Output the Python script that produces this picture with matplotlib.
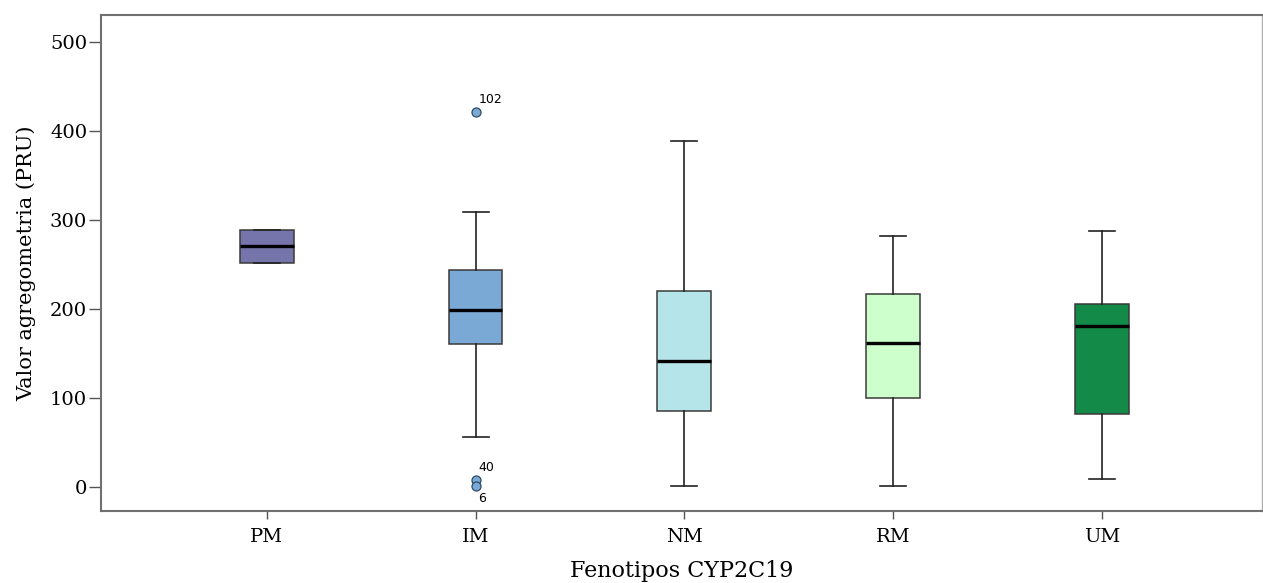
import matplotlib.pyplot as plt

# datos (SPSS boxplot)
categorias = ['PM', 'IM', 'NM', 'RM', 'UM']
q1 = [251, 160, 84.5, 100, 81.5]
mediana = [271, 198.6, 141.5, 162, 181]
q3 = [288, 244, 220.4, 216.6, 205]
bigote_inf = [251, 56, 1, 1, 9]
bigote_sup = [288, 309, 388.5, 282, 287]
atipicos = [[], [420.7, 7, 1], [], [], []]
etiquetas_atipicos = [[], ['102', '40', '6'], [], [], []]
colores = ['#7574AB', '#7BA9D5', '#B5E5E8', '#CCFFCC', '#138A47']

plt.rcParams['font.family'] = ['DejaVu Serif']

fig = plt.figure(figsize=(12.63, 5.83), dpi=100)
ax = fig.add_axes([0.080, 0.1235, 0.919, 0.851])

stats = []
for i, cat in enumerate(categorias):
    stats.append({'label': cat, 'q1': q1[i], 'med': mediana[i], 'q3': q3[i],
                  'whislo': bigote_inf[i], 'whishi': bigote_sup[i],
                  'fliers': atipicos[i]})

pos = list(range(len(categorias)))
bp = ax.bxp(stats, positions=pos, widths=0.258, capwidths=0.125,
            patch_artist=True, showfliers=True,
            boxprops=dict(edgecolor='#3a3a3a', linewidth=1.1),
            medianprops=dict(color='black', linewidth=2.4),
            whiskerprops=dict(color='#222222', linewidth=1.2),
            capprops=dict(color='#222222', linewidth=1.2),
            flierprops=dict(marker='o', markersize=6.5,
                            markerfacecolor=colores[1],
                            markeredgecolor='#2f4a66', markeredgewidth=0.9))
for patch, c in zip(bp['boxes'], colores):
    patch.set_facecolor(c)

# etiquetas de casos atipicos
for i, (vals, labs) in enumerate(zip(atipicos, etiquetas_atipicos)):
    for v, lab in zip(vals, labs):
        dy = -9 if lab == '6' else 9
        ax.annotate(lab, (pos[i], v), xytext=(2, dy), textcoords='offset points',
                    fontsize=9, family='DejaVu Sans', ha='left', va='center')

ax.set_xlim(-0.794, 4.766)
ax.set_ylim(-27.4, 530.4)
ax.set_yticks([0, 100, 200, 300, 400, 500])
ax.set_xticks(pos)
ax.set_xticklabels(categorias)

for s in ax.spines.values():
    s.set_color('#707070')
    s.set_linewidth(1.5)
ax.spines['right'].set_color('#b0b0b0')
ax.spines['right'].set_linewidth(1)

ax.tick_params(axis='both', direction='out', width=1, color='#555555', labelsize=14)
ax.tick_params(axis='y', length=9, pad=1)
ax.tick_params(axis='x', length=6, pad=6)
ax.set_xlabel('Fenotipos CYP2C19', fontsize=16, labelpad=10)
ax.set_ylabel('Valor agregometria (PRU)', fontsize=15, labelpad=10)

plt.savefig('out.png', dpi=100)
